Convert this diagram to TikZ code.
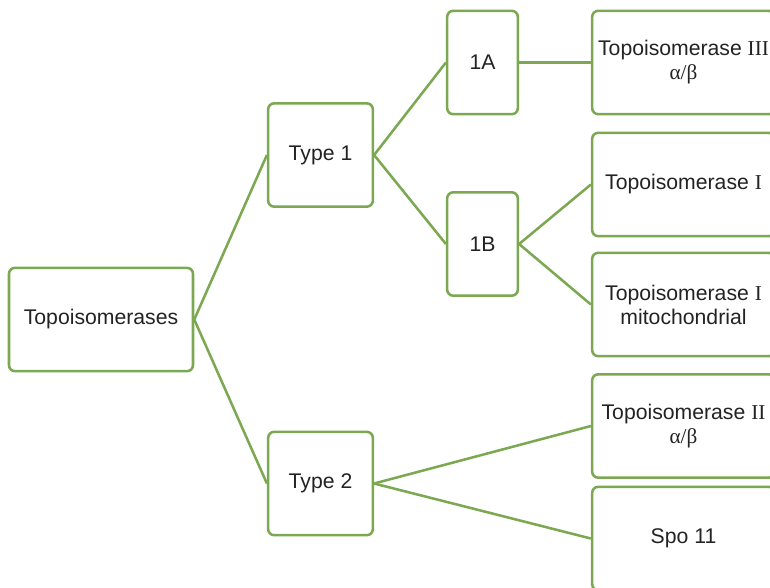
\documentclass[tikz,border=0pt]{standalone}
\usepackage{fontspec}
\setmainfont{Liberation Sans}
\newfontfamily\romfont{Liberation Serif}
\definecolor{leafgreen}{RGB}{124,168,82}
\definecolor{inkgray}{RGB}{35,35,35}
\newcommand{\rn}[1]{{\romfont #1}}

\begin{document}
\begin{tikzpicture}[
  x=0.75pt, y=-0.75pt,
  every node/.style={font=\fontsize{15.9}{18}\selectfont, align=center,
                     text=inkgray},
  box/.style={rectangle, draw=leafgreen, line width=1.9pt, fill=white,
              rounded corners=4.5pt, inner sep=2pt, minimum height=77.5pt},
  link/.style={draw=leafgreen, line width=1.9pt}
]
  \useasboundingbox (0,0) rectangle (770,587);
  \clip (0,0) rectangle (770,587);

  % Root
  \node[box, minimum width=138pt] (root) at (101, 319.5) {Topoisomerases};

  % Types
  \node[box, minimum width=78.5pt] (type1) at (320.5, 155) {Type 1};
  \node[box, minimum width=78.5pt] (type2) at (320.5, 483.5) {Type 2};

  % Subtypes
  \node[box, minimum width=53pt] (sub1a) at (482.5, 62.5) {1A};
  \node[box, minimum width=53pt] (sub1b) at (482.5, 244) {1B};

  % Enzymes
  \node[box, minimum width=137pt] (topo3) at (683.5, 62.5)
    {Topoisomerase \rn{III}\\\rn{α/β}};
  \node[box, minimum width=137pt] (topo1) at (683.5, 184.5)
    {Topoisomerase \rn{I}};
  \node[box, minimum width=137pt] (topo1m) at (683.5, 304.5)
    {Topoisomerase \rn{I}\\mitochondrial};
  \node[box, minimum width=137pt] (topo2) at (683.5, 426)
    {Topoisomerase \rn{II}\\\rn{α/β}};
  \node[box, minimum width=137pt] (spo11) at (683.5, 538.5) {Spo 11};

  % Connectors
  \draw[link] (root.east) -- (type1.west);
  \draw[link] (root.east) -- (type2.west);
  \draw[link] (type1.east) -- (sub1a.west);
  \draw[link] (type1.east) -- (sub1b.west);
  \draw[link] (sub1a.east) -- (topo3.west);
  \draw[link] (sub1b.east) -- (topo1.west);
  \draw[link] (sub1b.east) -- (topo1m.west);
  \draw[link] (type2.east) -- (topo2.west);
  \draw[link] (type2.east) -- (spo11.west);
\end{tikzpicture}
\end{document}
